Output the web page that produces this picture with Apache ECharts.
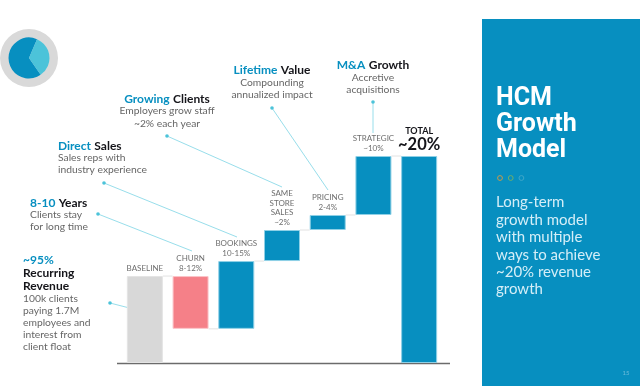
<!DOCTYPE html>
<html>
<head>
<meta charset="utf-8">
<style>
html, body { margin: 0; padding: 0; background: #fff; }
#chart { width: 640px; height: 386px; }
</style>
<script src="https://cdn.jsdelivr.net/npm/echarts@6/dist/echarts.min.js"></script>
</head>
<body>
<div id="chart"></div>
<script>
// waterfall values (total is ~20)
var categories = ['BASELINE', 'CHURN', 'BOOKINGS', 'SAME STORE SALES', 'PRICING', 'STRATEGIC', 'TOTAL'];
var barLabels = ['BASELINE', 'CHURN\n8-12%', 'BOOKINGS\n10-15%', 'SAME\nSTORE\nSALES\n~2%', 'PRICING\n2-4%', 'STRATEGIC\n~10%', ''];
var offsets = [0, 3.3, 3.3, 9.85, 12.85, 14.3, 0];
var amounts = [8.4, 5.1, 6.55, 3.0, 1.45, 5.7, 20];
var connectorLevels = [8.4, 3.3, 9.85, 12.85, 14.3, 20];
var iconShare = [34, 66];

var BLUE = '#078fc0';
var CYAN = '#4cc3d9';
var GREY = '#666';
var BAR_FONT = 'Lato, sans-serif';

function barColor(i) {
    if (i === 0) return '#d8d8d8';
    if (i === 1) return '#f58088';
    return BLUE;
}

function barEdge(i) {
    if (i === 0) return '#e4e4e4';
    if (i === 1) return '#fbc4c8';
    return '#8fd0e6';
}

// callouts: [x, y, align, text]
var callouts = [
    [167, 99, 'center', '{b|Growing} {k|Clients}'],
    [167, 111, 'center', '{t|Employers grow staff}'],
    [167, 124, 'center', '{t|~2% each year}'],
    [58, 146, 'left', '{b|Direct} {k|Sales}'],
    [58, 158, 'left', '{t|Sales reps with}'],
    [58, 170, 'left', '{t|industry experience}'],
    [30, 203, 'left', '{b|8-10} {k|Years}'],
    [30, 215, 'left', '{t|Clients stay}'],
    [30, 227, 'left', '{t|for long time}'],
    [23, 260, 'left', '{b|~95%}'],
    [23, 273, 'left', '{k|Recurring}'],
    [23, 286, 'left', '{k|Revenue}'],
    [23, 299, 'left', '{t|100k clients}'],
    [23, 311, 'left', '{t|paying 1.7M}'],
    [23, 323, 'left', '{t|employees and}'],
    [23, 335, 'left', '{t|interest from}'],
    [23, 347, 'left', '{t|client float}'],
    [272, 70, 'center', '{b|Lifetime} {k|Value}'],
    [272, 83, 'center', '{t|Compounding}'],
    [272, 95, 'center', '{t|annualized impact}'],
    [373, 65, 'center', '{b|M&A} {k|Growth}'],
    [373, 78, 'center', '{t|Accretive}'],
    [373, 90, 'center', '{t|acquisitions}']
];

// leader lines: dot x, dot y, end x, end y
var leaders = [
    [167, 136, 282, 187],
    [104, 183, 237, 237],
    [98, 214, 192, 251],
    [110, 303, 145, 312],
    [272, 108, 328, 190],
    [373, 102, 373, 133]
];

var panelLines = ['Long-term', 'growth model', 'with multiple', 'ways to achieve', '~20% revenue', 'growth'];
var titleLines = ['HCM', 'Growth', 'Model'];
var ringColors = ['#c79a4a', '#6fae6a', '#3fa7c9'];

var graphics = [];

// right panel
graphics.push({ type: 'rect', z: 0, shape: { x: 482, y: 19, width: 158, height: 367 }, style: { fill: BLUE } });
titleLines.forEach(function (t, i) {
    graphics.push({
        type: 'text', z: 1, x: 496, y: 99 + i * 26,
        style: { text: t, fill: '#fff', font: 'bold 25px Roboto, sans-serif', textVerticalAlign: 'middle' }
    });
});
ringColors.forEach(function (c, i) {
    graphics.push({ type: 'circle', z: 1, shape: { cx: 500 + i * 10.7, cy: 178, r: 2.4 }, style: { fill: 'none', stroke: c, lineWidth: 1 } });
});
panelLines.forEach(function (t, i) {
    graphics.push({
        type: 'text', z: 1, x: 496, y: 202.5 + i * 17.4,
        style: { text: t, fill: '#d5eef7', font: '15px Lato, sans-serif', textVerticalAlign: 'middle' }
    });
});
graphics.push({
    type: 'text', z: 1, x: 626, y: 373,
    style: { text: '15', fill: '#6dbcd9', font: '6px Lato, sans-serif', textAlign: 'center', textVerticalAlign: 'middle' }
});

// axis line runs a little past the bars on both sides
graphics.push({ type: 'line', z: 1, shape: { x1: 117, y1: 363.5, x2: 450, y2: 363.5 }, style: { stroke: '#6b6b6b', lineWidth: 1.5 } });

leaders.forEach(function (l) {
    graphics.push({ type: 'line', z: 1, shape: { x1: l[0], y1: l[1], x2: l[2], y2: l[3] }, style: { stroke: '#98deeb', lineWidth: 1 } });
    graphics.push({ type: 'circle', z: 2, shape: { cx: l[0], cy: l[1], r: 1.8 }, style: { fill: CYAN } });
});

callouts.forEach(function (c) {
    graphics.push({
        type: 'text', z: 2, x: c[0], y: c[1],
        style: {
            text: c[3], align: c[2], verticalAlign: 'middle',
            rich: {
                b: { fontFamily: 'Lato, sans-serif', fontWeight: 'bold', fontSize: 12, fill: BLUE, color: BLUE },
                k: { fontFamily: 'Lato, sans-serif', fontWeight: 'bold', fontSize: 12, fill: '#15151a', color: '#15151a' },
                t: { fontFamily: 'Lato, sans-serif', fontSize: 10.3, fill: GREY, color: GREY }
            }
        }
    });
});

var chart = echarts.init(document.getElementById('chart'), null, { renderer: 'canvas' });

chart.setOption({
    animation: false,
    backgroundColor: '#fff',
    grid: { left: 122, top: 156, width: 320, height: 207 },
    xAxis: {
        type: 'category',
        data: categories,
        axisLine: { show: false },
        axisTick: { show: false },
        axisLabel: { show: false }
    },
    yAxis: { type: 'value', min: 0, max: 20, show: false },
    graphic: graphics,
    series: [
        {
            type: 'custom',
            silent: true,
            z: 1,
            data: connectorLevels.map(function (v, i) { return [i, v]; }),
            renderItem: function (params, api) {
                var p = api.coord([api.value(0), api.value(1)]);
                var band = api.size([1, 0])[0];
                return {
                    type: 'line',
                    shape: { x1: p[0] + 18, y1: p[1], x2: p[0] + band - 18, y2: p[1] },
                    style: { stroke: '#e2e2e2', lineWidth: 1 }
                };
            }
        },
        {
            type: 'bar',
            stack: 'fall',
            barWidth: 36,
            silent: true,
            itemStyle: { color: 'transparent' },
            data: offsets
        },
        {
            type: 'bar',
            stack: 'fall',
            barWidth: 36,
            silent: true,
            z: 2,
            data: amounts.map(function (v, i) {
                return {
                    value: v,
                    itemStyle: { color: barColor(i), borderWidth: 1, borderColor: barEdge(i) }
                };
            }),
            label: {
                show: true,
                position: 'top',
                distance: 3,
                fontFamily: BAR_FONT,
                fontSize: 8,
                lineHeight: 9.5,
                color: '#6e6e6e',
                formatter: function (p) {
                    if (p.dataIndex === 6) return '{a|TOTAL}\n{c|~20%}';
                    return barLabels[p.dataIndex];
                },
                rich: {
                    a: { fontFamily: BAR_FONT, fontWeight: 'bold', fontSize: 9, lineHeight: 12, color: '#15151a' },
                    c: { fontFamily: BAR_FONT, fontWeight: 'bold', fontSize: 16.5, lineHeight: 16, color: '#15151a' }
                }
            }
        },
        {
            type: 'pie',
            silent: true,
            center: [29, 58],
            radius: [20, 29],
            label: { show: false },
            itemStyle: { color: '#d9d9d9' },
            data: [1]
        },
        {
            type: 'pie',
            silent: true,
            center: [29, 58],
            radius: [0, 20.5],
            startAngle: 67,
            clockwise: true,
            label: { show: false },
            data: [
                { value: iconShare[0], itemStyle: { color: CYAN } },
                { value: iconShare[1], itemStyle: { color: BLUE } }
            ]
        }
    ]
});
</script>
</body>
</html>
